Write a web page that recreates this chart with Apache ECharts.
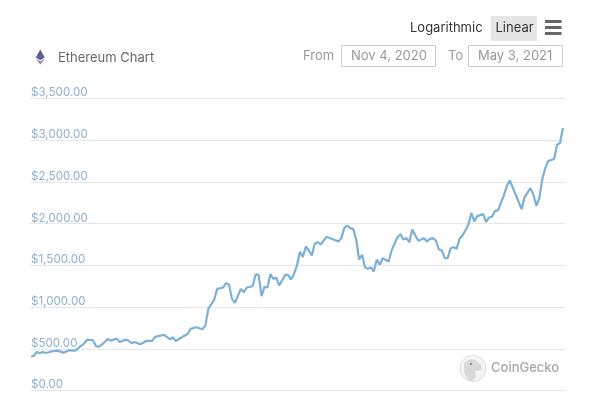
<!DOCTYPE html>
<html><head><meta charset="utf-8">
<style>html,body{margin:0;padding:0;background:#fff}#c{width:597px;height:409px}</style>
<script src="https://cdn.jsdelivr.net/npm/echarts@6/dist/echarts.min.js"></script>
</head><body><div id="c"></div>
<script>
const startDate = '2020-11-04';
const tickLabels = ['$0.00','$500.00','$1,000.00','$1,500.00','$2,000.00','$2,500.00','$3,000.00','$3,500.00'];
const dayOffsets = [0,1,2,3,4,5,6,7,9,11,13,15,17,18,19,21,22,23,24,26,27,29,30,32,33,34,35,37,39,41,42,45,46,47,48,49,51,53,54,56,58,59,60,62,63,65,66,67,68,69,71,72,73,75,76,77,78,79,80,81,82,83,84,86,87,88,89,90,91,92,93,94,95,96,97,98,100,103,104,105,106,107,108,109,110,111,112,113,114,115,116,117,118,119,121,122,124,125,126,127,128,129,131,133,134,135,136,137,138,139,140,141,142,143,144,145,146,148,149,150,151,153,154,155,156,157,158,160,161,162,164,166,167,169,170,171,172,173,174,175,177,178,179,180];
const prices = [405,417,462,446,462,450,458,470,478,454,482,478,538,562,610,602,530,526,550,618,598,622,582,610,598,566,582,554,594,594,642,666,642,614,638,594,638,678,738,758,734,778,978,1090,1218,1234,1286,1270,1098,1050,1218,1178,1234,1250,1390,1390,1130,1242,1234,1394,1338,1354,1258,1386,1386,1330,1398,1500,1662,1602,1726,1678,1618,1758,1778,1750,1842,1802,1786,1826,1946,1978,1946,1938,1818,1570,1626,1478,1458,1474,1426,1570,1506,1586,1546,1678,1838,1874,1810,1826,1778,1930,1794,1826,1786,1818,1826,1798,1690,1678,1590,1586,1706,1718,1698,1818,1858,1986,2130,2026,2090,2114,2020,2074,2082,2154,2158,2340,2450,2518,2346,2174,2318,2426,2346,2214,2306,2534,2666,2750,2774,2946,2966,3146];
const DAY = 86400000, t0 = Date.UTC(2020,10,4);
const seriesData = dayOffsets.map((d,i)=>[t0+d*DAY, prices[i]]);
const FONT = 'Inter, "Liberation Sans", sans-serif';
const txt = (x,y,text,fill,size,weight)=>({type:'text',x,y,style:{text,fill,font:(weight||400)+' '+size+'px '+FONT,textVerticalAlign:'middle',textAlign:'left'},z:10});
const box = (x,y,w,h,fill,stroke)=>({type:'rect',shape:{x,y,width:w,height:h},style:{fill,stroke:stroke||null,lineWidth:1},z:5});
const chart = echarts.init(document.getElementById('c'),null,{renderer:'canvas'});
chart.setOption({
  animation:false,
  backgroundColor:'#fff',
  grid:{left:30,right:32,top:98.5,bottom:18.5},
  xAxis:{type:'time',min:t0-DAY/3,max:t0+180.68*DAY,show:false},
  yAxis:{type:'value',min:0,max:3500,interval:500,
    axisLine:{show:false},axisTick:{show:false},
    splitLine:{show:true,lineStyle:{color:'#e6e6e6',width:1}},
    axisLabel:{inside:true,margin:1,verticalAlign:'bottom',lineHeight:11,color:'#8fb1d0',fontFamily:FONT,fontSize:11.6,
      formatter:(v)=>tickLabels[v/500]}},
  series:[{type:'line',data:seriesData,showSymbol:false,smooth:false,lineStyle:{color:'#7cb0d8',width:2.2},itemStyle:{color:'#7cb0d8'},z:3}],
  graphic:[
    {type:'polygon',shape:{points:[[40.3,49.5],[44.8,57.5],[40.3,60.3],[35.8,57.5]]},style:{fill:'#5a5f94'},z:10},
    {type:'polygon',shape:{points:[[35.8,58.7],[40.3,61.5],[44.8,58.7],[40.3,64.5]]},style:{fill:'#7f83ad'},z:10},
    txt(58,58,'Ethereum Chart','#66676f',13),
    txt(410,28.5,'Logarithmic','#333333',13),
    box(491,16,46,25,'#e6e6e6'),
    txt(495.5,28.5,'Linear','#333333',13),
    box(545,20,16.5,3,'#666666'),box(545,26,16.5,3,'#666666'),box(545,32,16.5,3,'#666666'),
    txt(303,56,'From','#999999',13),
    box(341.5,45.5,94,21,'#fff','#cccccc'),
    txt(351,56,'Nov 4, 2020','#999999',13),
    txt(448,56,'To','#999999',13),
    box(468.5,45.5,94,21,'#fff','#cccccc'),
    txt(478,56,'May 3, 2021','#999999',13),
    {type:'circle',shape:{cx:473,cy:368.5,r:13},style:{fill:'#f5f5f5',stroke:'#dcdcdc',lineWidth:1},z:10},
    {type:'polygon',shape:{points:[[464,363],[470,359],[476,360],[481,365],[482,370],[475,371],[476,377],[472,381],[467,379],[464,372]]},style:{fill:'#d9d9d9'},z:11},
    {type:'circle',shape:{cx:471,cy:364,r:1},style:{fill:'#777'},z:12},
    txt(491,368.5,'CoinGecko','#a8a8a8',13,500)
  ]
});
</script></body></html>
